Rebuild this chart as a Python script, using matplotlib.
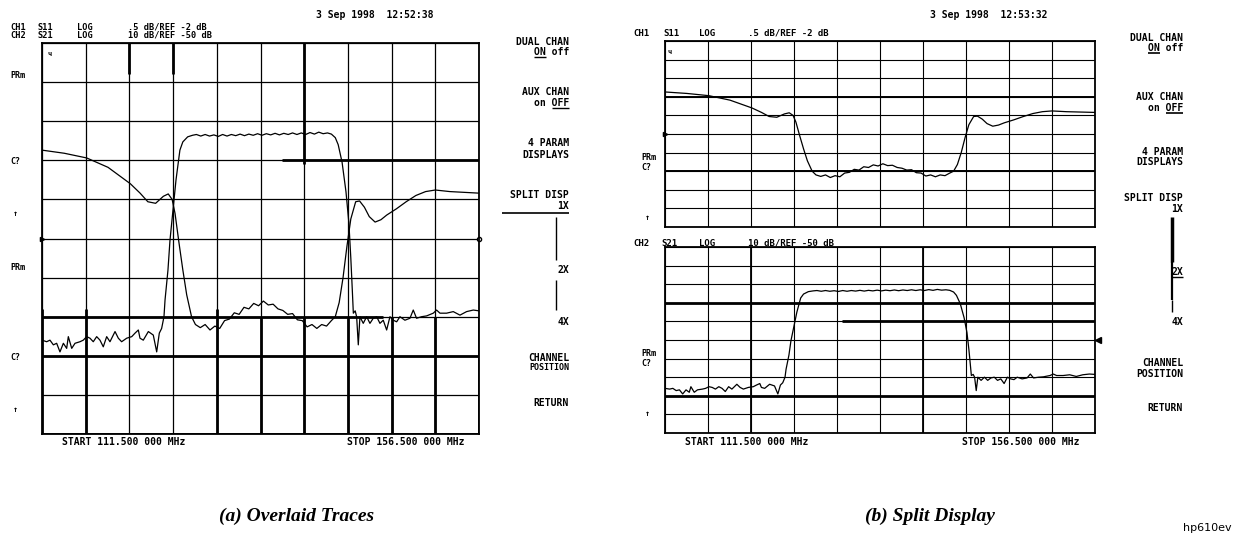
import numpy as np
import matplotlib.pyplot as plt
from matplotlib.lines import Line2D
from matplotlib.transforms import Affine2D

f_start, f_stop = 111.5, 156.5
n_div = 10
ref_pos = 5                      # reference line at the centre division
ch1_scale, ch1_ref = 0.5, -2.0   # CH1  S11  LOG  .5 dB/REF -2 dB
ch2_scale, ch2_ref = 10.0, -50.0 # CH2  S21  LOG  10 dB/REF -50 dB

# S11 (return) trace, MHz / dB
s11_freq = [111.5, 113.8, 116.1, 118.3, 120.6, 121.6, 122.4, 123.2, 124.0, 124.5,
            124.9, 125.2, 125.6, 126.0, 126.4, 126.9, 127.3, 127.8, 128.3, 128.8,
            129.3, 129.8, 130.3, 130.8, 131.3, 131.8, 132.3, 132.8, 133.3, 133.8,
            134.3, 134.8, 135.3, 135.8, 136.3, 136.8, 137.3, 137.8, 138.3, 138.8,
            139.3, 139.8, 140.3, 140.8, 141.3, 141.7, 142.1, 142.5, 142.9, 143.3,
            143.8, 144.2, 144.7, 145.2, 145.8, 146.4, 147.0, 148.0, 149.0, 150.0,
            151.0, 152.0, 153.5, 155.0, 156.5]
s11_db = [-0.87, -0.91, -0.97, -1.09, -1.30, -1.42, -1.53, -1.55, -1.46, -1.43,
          -1.50, -1.68, -2.05, -2.40, -2.72, -3.00, -3.10, -3.14, -3.10, -3.17,
          -3.12, -3.15, -3.05, -3.03, -2.95, -2.97, -2.88, -2.90, -2.83, -2.86,
          -2.80, -2.85, -2.84, -2.90, -2.92, -2.97, -2.96, -3.04, -3.05, -3.13,
          -3.10, -3.15, -3.10, -3.12, -3.05, -3.00, -2.82, -2.50, -2.10, -1.75,
          -1.53, -1.52, -1.60, -1.72, -1.79, -1.76, -1.70, -1.62, -1.53, -1.45,
          -1.40, -1.38, -1.40, -1.41, -1.42]

# S21 (transmission) trace, MHz / dB
s21_freq = [111.5, 111.98, 112.32, 112.67, 113.01, 113.35, 113.7, 114.04, 114.21, 114.56,
            114.9, 115.41, 115.75, 116.1, 116.44, 116.78, 117.13, 117.47, 117.81, 118.16,
            118.5, 119.02, 119.36, 119.7, 120.22, 120.74, 121.08, 121.42, 121.59, 121.93,
            122.45, 122.96, 123.31, 123.58, 123.82, 124.06,
            124.17, 124.47, 124.68, 124.99, 125.3, 125.7, 126.0, 126.5, 127.0,
            127.4, 127.85, 128.3, 128.75, 129.2, 129.65, 130.1, 130.55, 131.0, 131.45,
            131.9, 132.35, 132.8, 133.25, 133.7, 134.15, 134.6, 135.05, 135.5, 135.95,
            136.4, 136.85, 137.3, 137.75, 138.2, 138.65, 139.1, 139.55, 140.0, 140.45,
            140.9, 141.3,
            141.7, 142.0, 142.4, 142.8, 143.1, 143.3, 143.45, 143.56,
            143.75, 143.9, 144.07, 144.24, 144.58, 144.93, 145.27, 145.61, 145.96, 146.3,
            146.64, 146.99, 147.33, 147.67, 148.02, 148.36, 148.87, 149.39, 149.73, 150.07,
            150.59, 151.1, 151.79, 152.13, 152.48, 153.16, 153.85, 154.54, 155.22, 155.91,
            156.5]
s21_db = [-76.0, -76.4, -76.0, -77.2, -76.8, -79.0, -76.8, -78.1, -75.1, -78.1,
          -76.8, -76.4, -76.0, -75.1, -75.5, -76.4, -75.1, -76.0, -77.7, -75.1,
          -76.4, -73.8, -75.5, -76.4, -75.5, -75.1, -74.2, -73.4, -75.5, -76.0,
          -73.8, -74.7, -79.0, -74.2, -73.0, -70.0,
          -65.7, -58.1, -50.4, -42.7, -35.0, -27.4, -25.3, -24.0, -23.6,
          -23.4, -23.8, -23.4, -23.8, -23.5, -23.9, -23.4, -23.8, -23.4, -23.7,
          -23.3, -23.7, -23.3, -23.6, -23.2, -23.6, -23.2, -23.5, -23.1, -23.5,
          -23.1, -23.4, -23.0, -23.4, -23.0, -23.4, -22.9, -23.3, -22.8, -23.2,
          -23.0, -23.3,
          -24.2, -26.0, -30.5, -38.0, -46.0, -55.0, -63.0, -69.1,
          -68.5, -70.0, -77.2, -70.0, -71.7, -70.0, -71.7, -70.4, -70.0, -71.7,
          -70.9, -73.4, -70.0, -70.9, -71.3, -70.0, -70.9, -70.4, -68.3, -70.4,
          -70.0, -69.8, -69.1, -68.3, -69.1, -69.1, -68.7, -69.6, -68.7, -68.3,
          -68.5]

softkeys = ["DUAL CHAN", "ON off", "AUX CHAN", "on OFF", "4 PARAM", "DISPLAYS",
            "SPLIT DISP", "1X", "2X", "4X", "CHANNEL", "POSITION", "RETURN"]
date_a, date_b = "3 Sep 1998  12:52:38", "3 Sep 1998  12:53:32"

W, H = 1235, 534
fig = plt.figure(figsize=(W / 100, H / 100), dpi=100)
px = Affine2D().scale(1 / W, -1 / H).translate(0, 1) + fig.transFigure   # pixel coords, origin top-left

mono = dict(family='DejaVu Sans Mono', weight='bold', fontsize=7, color='black')


def txt(x, y, s, ha='left', **kw):
    fig.text(x, y, s, transform=px, ha=ha, va='center', **{**mono, **kw})


def seg(xs, ys, lw=1.0):
    fig.add_artist(Line2D(xs, ys, transform=px, color='black', lw=lw, solid_capstyle='butt'))


def graticule(x0, y0, x1, y1, lw=0.8):
    """ 10x10 screen grid in division units """
    ax = fig.add_axes([x0 / W, 1 - y1 / H, (x1 - x0) / W, (y1 - y0) / H])
    ax.set_xlim(f_start, f_stop)
    ax.set_ylim(0, n_div)
    ax.set_xticks(np.linspace(f_start, f_stop, n_div + 1))
    ax.set_yticks(range(n_div + 1))
    ax.tick_params(length=0, labelbottom=False, labelleft=False)
    ax.grid(True, color='black', lw=lw)
    for s in ax.spines.values():
        s.set_linewidth(1.3)
    return ax


def channel(ax, scale, ref):
    """ overlay axes in dB for one channel """
    ch = ax.twinx()
    lo = ref - ref_pos * scale
    ch.set_ylim(lo, lo + n_div * scale)
    ch.tick_params(length=0, labelright=False)
    for s in ch.spines.values():
        s.set_visible(False)
    return ch


def heavy(ax, hl=(), vl=(), lw=2.0):
    """ darker printed grid segments """
    for d, a, b in hl:
        ax.hlines(d, a, b, color='black', lw=lw)
    for f, a, b in vl:
        ax.vlines(f, a, b, color='black', lw=lw)


# ---------------- (a) overlaid traces ----------------
ga = graticule(42, 43, 479, 434, lw=0.9)
heavy(ga, hl=[(7, 136.2, f_stop), (3, f_start, 146.6), (2, f_start, f_stop), (0, f_start, f_stop)],
      vl=[(f, 0, 3.2) for f in (111.5, 116.0, 129.5)] +
         [(f, 0, 3.0) for f in (134.0, 138.5, 143.0, 147.5, 152.0, 156.5)] +
         [(120.5, 9.2, 10), (125.0, 9.2, 10), (138.5, 6.9, 10)])
ga.plot([f_start], [ref_pos], marker='>', ms=3, color='black', clip_on=False)
ga.plot([f_stop], [ref_pos], marker='o', ms=3, mfc='white', color='black', clip_on=False)
a1 = channel(ga, ch1_scale, ch1_ref)
a2 = channel(ga, ch2_scale, ch2_ref)
a1.plot(s11_freq, s11_db, color='black', lw=0.9)
a2.plot(s21_freq, s21_db, color='black', lw=0.9)

txt(316, 15, date_a)
for row, (ch, par, val) in enumerate([("CH1", "S11", f".5 dB/REF {ch1_ref:g} dB"),
                                      ("CH2", "S21", f"{ch2_scale:g} dB/REF {ch2_ref:g} dB")]):
    y = 27 + 8 * row
    for x, s in [(10, ch), (37, par), (77, "LOG"), (128, val)]:
        txt(x, y, s, fontsize=6.2)
txt(47, 54, "ч", fontsize=5)
for y, s in [(75, "PRm"), (162, "C?"), (268, "PRm"), (357, "C?")]:
    txt(10, y, s, fontsize=6)
for y in (213, 409):
    txt(13, y, "↑", fontsize=6)
txt(62, 442, f"START {f_start:.3f} 000 MHz")
txt(347, 442, f"STOP {f_stop:.3f} 000 MHz")

xa = 569
for s, y in zip(softkeys, [42, 52, 92, 103, 143, 155, 195, 206, 270, 322, 358, 368, 403]):
    txt(xa, y, s, ha='right', fontsize=6 if s == "POSITION" else 7)
seg([xa - 35, xa - 23.5], [57, 57], 1.0)
seg([xa - 17.5, xa], [108, 108], 1.0)
seg([502, xa], [213, 213], 1.2)
seg([556, 556], [217, 260], 1.0)
seg([556, 556], [280, 310], 1.0)

# ---------------- (b) split display ----------------
gb1 = graticule(665, 41, 1095, 227, lw=0.8)
heavy(gb1, hl=[(7, f_start, f_stop), (3, f_start, f_stop)], lw=1.4)
gb1.plot([f_start], [ref_pos], marker='>', ms=3, color='black', clip_on=False)
b1 = channel(gb1, ch1_scale, ch1_ref)
b1.plot(s11_freq, s11_db, color='black', lw=0.9)

gb2 = graticule(665, 247, 1095, 433, lw=0.8)
heavy(gb2, hl=[(7, f_start, f_stop), (6, 130.0, f_stop), (2, f_start, f_stop)], lw=2.0)
heavy(gb2, vl=[(120.5, 0, 10), (138.5, 0, 10)], lw=1.3)
gb2.plot([f_stop + 0.35], [ref_pos], marker='<', ms=4, color='black', clip_on=False)
b2 = channel(gb2, ch2_scale, ch2_ref)
b2.plot(s21_freq, s21_db, color='black', lw=0.9)

txt(930, 15, date_b)
for y, row in [(33, [(633, "CH1"), (663, "S11"), (699, "LOG"), (748, f".5 dB/REF {ch1_ref:g} dB")]),
               (243, [(633, "CH2"), (661, "S21"), (699, "LOG"), (748, f"{ch2_scale:g} dB/REF {ch2_ref:g} dB")])]:
    for x, s in row:
        txt(x, y, s, fontsize=6.5)
txt(668, 52, "ч", fontsize=5)
for y, s in [(157, "PRm"), (168, "C?"), (354, "PRm"), (363, "C?")]:
    txt(641, y, s, fontsize=6)
for y in (217, 413):
    txt(645, y, "↑", fontsize=6)
txt(685, 442, f"START {f_start:.3f} 000 MHz")
txt(962, 442, f"STOP {f_stop:.3f} 000 MHz")

xb = 1183
for s, y in zip(softkeys, [38, 48, 97, 108, 152, 162, 198, 209, 272, 322, 363, 374, 408]):
    txt(xb, y, s, ha='right')
seg([xb - 35, xb - 23.5], [53, 53], 1.2)
seg([xb - 17.5, xb], [113, 113], 1.2)
seg([xb - 12, xb], [277, 277], 1.0)
seg([1172, 1172], [217, 262], 2.5)
seg([1172, 1172], [262, 300], 1.6)
seg([1172, 1172], [300, 312], 1.0)

# captions
cap = dict(transform=px, ha='center', va='center', family='Liberation Serif',
           style='italic', weight='bold', fontsize=14)
fig.text(297, 516, "(a) Overlaid Traces", **cap)
fig.text(930, 516, "(b) Split Display", **cap)
fig.text(1232, 528, "hp610ev", transform=px, ha='right', va='center', family='DejaVu Sans', fontsize=8)

fig.savefig("out.png", dpi=100, facecolor='white')
